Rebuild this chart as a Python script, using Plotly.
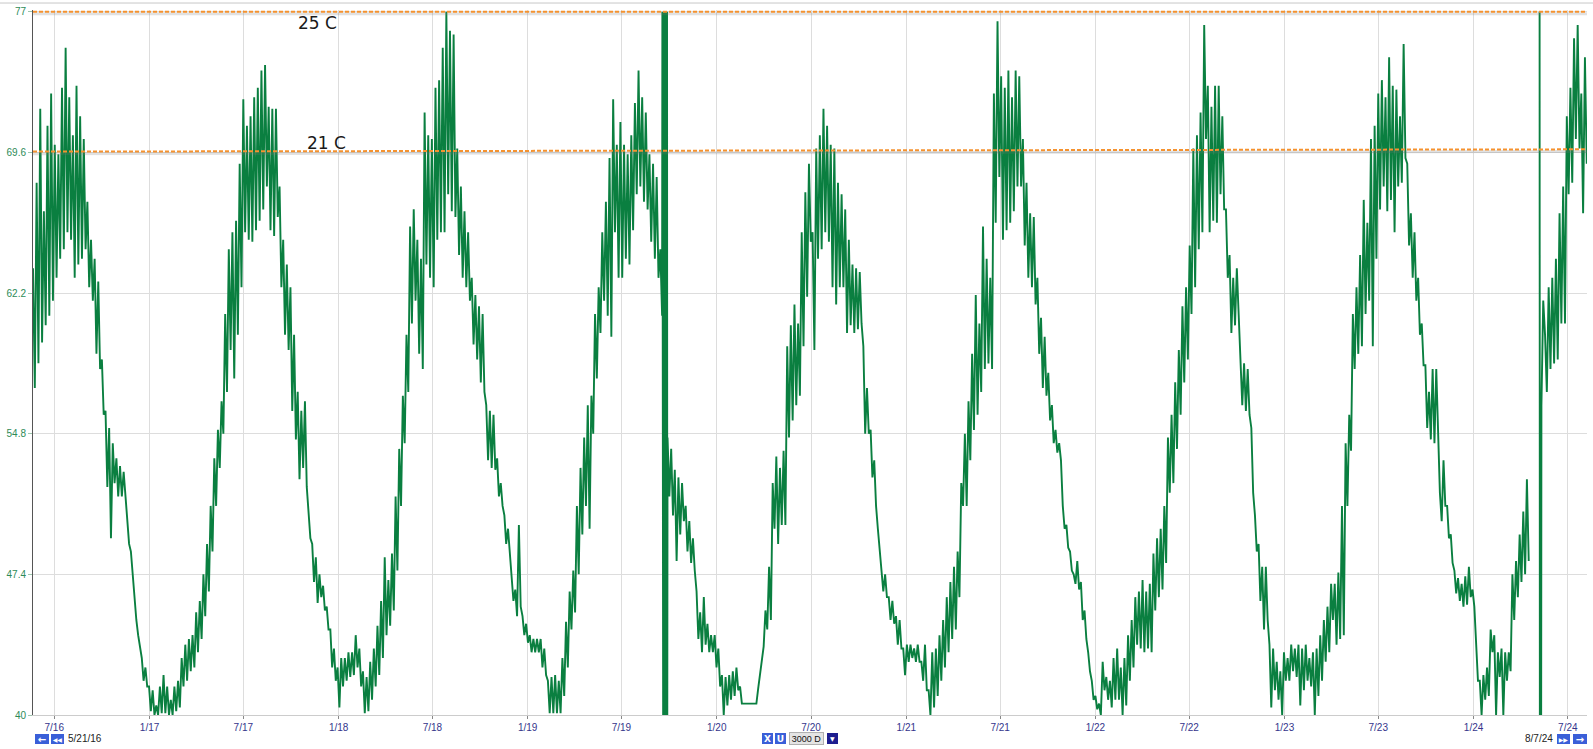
import pandas as pd
import plotly.graph_objects as go

# ---------------- data (deg F) ----------------
# two readings per week starting 2016-05-21: "a" at the start of the week, "b" half a week later
start_date = "2016-05-21"
end_date = "2024-08-07"

a_2016_17 = [63.5, 68.0, 71.9, 66.5, 71.0, 72.7, 70.0, 69.5, 73.0, 75.1,
             72.5, 70.5, 73.1, 71.5, 70.3, 67.0, 65.0, 64.0, 62.8, 58.7,
             56.0, 55.1, 54.3, 53.5, 53.1, 52.8, 50.5, 48.6, 46.0, 44.2,
             43.0, 42.5, 41.5, 41.3, 40.5, 41.5, 42.1, 41.5, 40.8, 41.5,
             41.8, 43.0, 43.7, 44.0, 44.2, 45.4, 46.0, 47.4, 49.0, 51.0,
             53.5, 55.0, 56.5, 61.1, 64.5, 65.4, 66.0, 69.0, 72.4, 71.0,
             71.5, 72.5, 73.0, 73.9, 74.2, 72.0, 71.9, 71.9, 67.8, 65.0,
             63.7, 62.5]
b_2016_17 = [57.2, 58.5, 59.6, 60.5, 61.0, 61.8, 63.0, 64.0, 64.5, 65.4,
             65.0, 63.0, 63.7, 64.0, 64.5, 62.5, 61.8, 59.0, 58.2, 55.8,
             52.0, 49.3, 52.2, 51.5, 51.5, 51.5, 49.0, 47.4, 45.0, 43.5,
             41.8, 41.5, 40.2, 40.0, 40.0, 40.1, 40.1, 40.0, 40.0, 40.2,
             40.4, 41.5, 41.8, 42.3, 42.5, 43.3, 44.0, 45.2, 46.5, 48.6,
             51.0, 53.0, 54.8, 57.0, 59.2, 57.7, 60.0, 62.5, 65.4, 65.0,
             64.9, 65.5, 66.0, 66.6, 67.8, 65.5, 65.2, 66.2, 62.5, 60.0,
             59.2, 56.0]

a_2017_18 = [60.0, 57.0, 56.0, 56.5, 50.5, 49.0, 48.3, 47.4, 46.8, 45.7,
             44.5, 43.5, 42.5, 43.0, 43.0, 43.3, 43.3, 44.2, 43.5, 42.3,
             42.0, 42.8, 43.5, 44.7, 46.0, 48.3, 47.1, 48.5, 51.5, 54.0,
             56.8, 60.0, 65.7, 66.6, 65.0, 64.0, 71.7, 70.5, 70.3, 73.0,
             73.4, 75.1, 77.0, 76.0, 75.8, 69.8, 67.8, 66.5, 65.4, 63.0,
             62.1, 61.5, 61.1, 56.3, 56.0, 55.8, 53.5, 52.2, 50.5, 49.8,
             47.5, 46.6, 50.0, 45.2, 44.8, 44.2, 44.0, 44.0, 44.0, 43.5,
             41.8, 42.0, 42.1]
b_2017_18 = [54.5, 52.4, 53.0, 52.0, 49.3, 47.0, 45.9, 46.2, 45.5, 44.5,
             42.5, 41.8, 40.4, 41.5, 41.8, 42.0, 42.1, 42.5, 41.5, 40.1,
             40.2, 40.8, 41.5, 42.1, 43.0, 44.2, 44.7, 45.5, 47.6, 51.0,
             54.3, 57.0, 60.6, 61.8, 59.0, 58.2, 63.7, 63.0, 62.5, 65.0,
             65.4, 65.4, 67.4, 66.5, 66.2, 64.2, 63.0, 62.5, 61.8, 59.5,
             58.7, 57.5, 57.0, 53.4, 53.0, 52.9, 51.5, 51.0, 49.0, 48.6,
             46.0, 45.2, 45.7, 44.2, 43.8, 43.3, 43.3, 43.3, 42.5, 42.1,
             40.1, 40.1, 40.1]

a_2019_20 = [41.8, 43.0, 44.9, 46.5, 47.6, 51.0, 53.0, 54.6, 56.3, 56.8,
             61.1, 62.5, 65.4, 67.0, 69.3, 72.4, 70.0, 71.2, 70.0, 69.5,
             70.5, 72.2, 73.9, 72.5, 71.7, 69.5, 69.0, 68.3, 64.5, 63.0,
             54.6, 54.0, 52.9, 52.5, 52.2, 51.0, 50.2, 49.3, 46.5, 45.4,
             46.2, 44.8, 44.2, 44.2, 43.5, 42.1, 42.0, 42.1, 42.3, 42.5,
             41.5, 40.6, 40.6, 40.6, 40.6, 41.4, 43.0, 45.5, 47.8, 52.2,
             53.6, 53.0, 53.9, 59.4, 60.5, 61.6, 60.6, 65.4, 67.5, 69.0,
             65.4]
b_2019_20 = [40.1, 41.0, 42.5, 44.5, 45.4, 47.4, 49.5, 51.0, 49.8, 54.8,
             57.7, 60.1, 61.8, 61.0, 59.9, 65.4, 63.0, 63.0, 64.0, 63.7,
             65.5, 67.4, 67.8, 67.0, 66.6, 64.9, 64.0, 63.0, 61.0, 60.6,
             51.5, 50.5, 48.1, 49.5, 50.2, 48.6, 48.0, 47.6, 44.0, 43.3,
             43.7, 43.3, 43.3, 42.5, 41.5, 40.0, 40.5, 40.8, 41.0, 41.3,
             40.6, 40.6, 40.6, 40.6, 40.6, 42.1, 43.6, 44.5, 45.0, 49.8,
             49.0, 50.0, 50.0, 54.6, 55.5, 56.3, 56.8, 59.4, 62.0, 64.9,
             59.2]

a_2020_21 = [69.8, 70.5, 71.9, 71.0, 70.0, 69.8, 68.0, 67.4, 66.6, 65.0,
             63.7, 63.5, 63.3, 59.4, 57.2, 55.0, 53.4, 49.8, 47.8, 47.4,
             46.2, 46.0, 45.2, 45.0, 43.5, 43.7, 43.7, 43.5, 43.7, 42.8,
             43.7, 41.3, 43.3, 43.5, 44.2, 45.0, 46.2, 47.0, 47.8, 48.6,
             52.2, 54.8, 56.5, 59.0, 62.1, 60.6, 65.7, 64.0, 63.0, 72.7,
             76.5, 73.6, 73.0, 73.9, 72.5, 73.9, 73.6, 70.3, 68.0, 66.4,
             66.2, 63.0, 60.9, 59.9, 58.0, 56.3, 55.0, 54.3, 51.0, 50.0,
             48.6, 47.4]
b_2020_21 = [64.0, 64.5, 65.4, 64.9, 62.5, 61.6, 62.5, 62.5, 60.1, 60.5,
             60.1, 60.3, 60.6, 54.8, 54.8, 52.5, 51.0, 48.6, 46.5, 46.2,
             45.0, 44.8, 43.7, 43.5, 42.1, 42.8, 43.0, 42.8, 42.8, 41.8,
             41.3, 40.0, 40.4, 41.0, 41.8, 42.5, 43.3, 44.0, 44.5, 46.2,
             51.0, 51.0, 53.4, 55.0, 55.8, 57.0, 58.2, 58.5, 58.2, 65.9,
             68.3, 65.0, 65.5, 65.9, 66.5, 67.8, 67.8, 64.7, 63.0, 62.5,
             61.6, 59.0, 57.2, 56.8, 55.5, 54.3, 53.8, 53.4, 49.8, 48.8,
             47.6, 46.9]

a_2022_23 = [48.1, 47.0, 45.5, 43.3, 41.8, 41.0, 40.6, 42.8, 42.0, 41.8,
             43.0, 43.5, 42.5, 43.0, 44.2, 45.0, 46.2, 46.5, 47.1, 46.5,
             46.9, 48.5, 49.3, 49.8, 51.0, 54.6, 55.8, 57.5, 59.2, 61.5,
             62.5, 64.7, 69.8, 70.5, 71.7, 76.3, 73.1, 72.0, 73.1, 73.1,
             71.5, 66.6, 64.2, 63.0, 63.5, 59.0, 58.5, 58.2, 55.1, 50.5,
             49.0, 47.8, 47.8, 43.7, 43.5, 42.8, 42.3, 43.3, 43.0, 43.7,
             43.5, 43.7, 43.5, 43.7, 43.0, 43.3, 43.5, 44.2, 45.0, 45.7,
             46.9]
b_2022_23 = [46.6, 45.0, 44.0, 42.3, 40.8, 40.3, 40.0, 41.3, 40.8, 40.4,
             40.8, 40.8, 40.0, 40.5, 41.8, 42.5, 43.7, 43.5, 43.3, 43.5,
             43.3, 45.5, 46.2, 46.6, 48.0, 51.7, 52.2, 54.0, 55.8, 57.5,
             58.7, 61.1, 62.5, 64.5, 65.4, 70.3, 65.4, 66.0, 65.9, 67.4,
             66.6, 63.0, 60.1, 60.5, 61.1, 56.3, 56.0, 55.8, 51.7, 48.6,
             46.0, 44.5, 45.0, 40.4, 41.3, 40.8, 40.0, 41.8, 41.8, 42.3,
             42.0, 40.5, 41.3, 41.8, 41.5, 40.0, 41.0, 41.8, 42.8, 43.3,
             45.0]

a_2023_24 = [46.9, 47.5, 51.0, 54.3, 55.8, 61.1, 62.5, 64.2, 67.1, 65.9,
             70.3, 71.0, 72.7, 73.4, 72.5, 74.6, 73.1, 72.9, 71.5, 75.3,
             69.0, 66.4, 65.4, 63.0, 60.6, 58.4, 57.0, 58.2, 58.2, 51.7,
             53.4, 51.0, 49.5, 47.6, 47.2, 46.9, 47.3, 47.8, 46.6, 43.3,
             41.8, 42.1, 42.5, 44.5, 44.2, 43.3, 43.5, 43.3, 43.3, 47.4,
             48.1, 49.5, 50.7, 52.4, None, None, None, 56.3, 60.0, 62.5,
             63.0, 64.0, 66.4, 67.8, 71.5, 73.0, 75.6, 76.3, 72.7, 74.6]
b_2023_24 = [43.7, 44.0, 44.2, 51.0, 53.9, 58.2, 59.0, 59.4, 61.1, 61.8,
             59.4, 64.0, 66.6, 67.8, 66.5, 67.1, 65.4, 67.8, 68.0, 69.3,
             64.7, 63.0, 61.8, 60.0, 58.4, 55.1, 54.5, 54.3, 54.1, 50.2,
             51.0, 49.3, 48.0, 46.4, 46.0, 45.7, 45.8, 46.2, 45.7, 41.8,
             40.0, 40.8, 41.0, 43.3, 40.0, 42.0, 40.0, 41.8, 42.3, 45.0,
             46.2, 47.0, 47.4, 48.1, None, None, None, 61.8, 57.0, 58.2,
             58.5, 58.7, 60.6, 60.6, 67.4, 68.0, 70.3, 69.8, 66.4, 69.0]

# sensor glitches (day offset from start, value)
glitch_days = [1215, 1215.5, 1216, 1216.5, 1217, 1217.5, 1218, 1218.5, 1219, 1219.5,
               1220, 1220.5, 1221, 1221.5, 1222, 1222.5, 1223, 1223.5, 1224, 1224.5,
               2908.5, 2909, 2911.5]
glitch_vals = [77, 40, 77, 40, 77, 40, 77, 40, 77, 40,
               77, 40, 77, 40, 77, 40, 77, 40, 77, 40,
               77, 40, 40]

# reference lines (drawn overlay): label, value at left end, value at right end
ref_labels = ["25 C", "21 C"]
ref_left = [77.0, 69.64]
ref_right = [77.0, 69.76]
ref_label_day = [549, 566]
ref_label_val = [76.4, 70.07]

y_ticks = [40, 47.4, 54.8, 62.2, 69.6, 77]

# ---------------- build series ----------------
a_all = a_2016_17 + a_2017_18 + a_2019_20 + a_2020_21 + a_2022_23 + a_2023_24
b_all = b_2016_17 + b_2017_18 + b_2019_20 + b_2020_21 + b_2022_23 + b_2023_24
assert len(a_all) == len(b_all) == 429
pairs = []
for i, (va, vb) in enumerate(zip(a_all, b_all)):
    pairs.append((7 * i, va))
    pairs.append((7 * i + 3.5, vb))
pairs = sorted(pairs + list(zip(glitch_days, glitch_vals)), key=lambda p: p[0])
t0 = pd.Timestamp(start_date)
xs = [t0 + pd.Timedelta(days=d) for d, _ in pairs]
ys = [v for _, v in pairs]

GREEN = "#0a7f40"
ORANGE = "#f5922f"

fig = go.Figure()
fig.add_trace(go.Scatter(x=xs, y=ys, mode="lines", line=dict(color=GREEN, width=1.9),
                         connectgaps=False, hoverinfo="skip"))

x_ends = [pd.Timestamp(start_date), pd.Timestamp(end_date)]
for lab, yl, yr, ld, lv in zip(ref_labels, ref_left, ref_right, ref_label_day, ref_label_val):
    fig.add_trace(go.Scatter(x=x_ends, y=[yl - 0.11, yr - 0.11], mode="lines",
                             line=dict(color="rgba(120,120,120,0.22)", width=3), hoverinfo="skip"))
    fig.add_trace(go.Scatter(x=x_ends, y=[yl, yr], mode="lines",
                             line=dict(color=ORANGE, width=2, dash="4px,2px"), hoverinfo="skip"))
    fig.add_annotation(x=t0 + pd.Timedelta(days=ld), y=lv, text=lab, showarrow=False,
                       font=dict(family="DejaVu Sans", size=17, color="#1a1a1a"),
                       xanchor="center", yanchor="middle")

L, R, T, B = 33, 6, 8, 34
W, H = 1593, 749
PLOT_BOTTOM = H - B


def nav(px, py, text, w, h, bg, fg="white", size=9, border=None, family="DejaVu Sans"):
    fig.add_annotation(xref="paper", yref="paper", x=0, y=0,
                       xshift=px - L, yshift=PLOT_BOTTOM - py,
                       xanchor="center", yanchor="middle", showarrow=False,
                       text=text, width=w, height=h, bgcolor=bg, borderpad=0,
                       bordercolor=border if border else bg, borderwidth=1 if border else 0,
                       font=dict(family=family, size=size, color=fg))


BLUE = "#3a5fd8"
nav(41.5, 738.5, "<b>←</b>", 14, 10, BLUE, size=10)
nav(57, 738.5, "◀◀", 13, 10, BLUE, size=6)
fig.add_annotation(xref="paper", yref="paper", x=0, y=0, xshift=66 - L, yshift=PLOT_BOTTOM - 738.5,
                   xanchor="left", yanchor="middle", showarrow=False, text="5/21/16",
                   font=dict(family="Liberation Sans", size=10, color="#222"))
nav(767, 738.5, "<b>X</b>", 11, 11, BLUE, size=9)
nav(780.5, 738.5, "<b>U</b>", 11, 11, BLUE, size=9)
nav(806, 738.5, "3000 D", 33, 11, "#e4e4e4", fg="#111", size=9, border="#b0b0b0", family="Liberation Sans")
nav(832, 738.5, "▼", 11, 11, "#1d1d8f", size=6)
fig.add_annotation(xref="paper", yref="paper", x=0, y=0, xshift=1555 - L, yshift=PLOT_BOTTOM - 738.5,
                   xanchor="right", yanchor="middle", showarrow=False, text="8/7/24",
                   font=dict(family="Liberation Sans", size=10, color="#222"))
nav(1563.5, 738.5, "▶▶", 13, 10, BLUE, size=6)
nav(1579.5, 738.5, "<b>→</b>", 14, 10, BLUE, size=10)

fig.update_layout(
    width=W, height=H,
    margin=dict(l=L, r=R, t=T, b=B, pad=0),
    paper_bgcolor="white", plot_bgcolor="white",
    showlegend=False,
    xaxis=dict(type="date", range=[start_date, end_date],
               tick0="2016-07-01", dtick="M6", tickformat="%-m/%y",
               showgrid=True, gridcolor="#dddddd", gridwidth=1,
               showline=True, linecolor="#cccccc", linewidth=1,
               ticks="outside", ticklen=3, tickcolor="#888888",
               tickfont=dict(family="Liberation Sans", size=10, color="#35358c"),
               zeroline=False, fixedrange=True),
    yaxis=dict(range=[40, 77.09], tickvals=y_ticks, ticktext=[f"{v:g}" for v in y_ticks],
               showgrid=True, gridcolor="#dddddd", gridwidth=1,
               showline=True, linecolor="#555555", linewidth=1,
               ticks="outside", ticklen=4, tickcolor="#9cc7ad",
               tickfont=dict(family="Liberation Sans", size=10, color="#2e8b57"),
               zeroline=False, fixedrange=True),
)

fig.add_shape(type="line", xref="paper", yref="paper", x0=-L / (W - L - R), x1=1 + R / (W - L - R),
              y0=1 + (T - 1) / (H - T - B), y1=1 + (T - 1) / (H - T - B),
              line=dict(color="#c8c8c8", width=1))

fig.write_html("out.html", include_plotlyjs=True,
               config={"displayModeBar": False},
               post_script="document.body.style.margin='0';document.body.style.overflow='hidden';")
